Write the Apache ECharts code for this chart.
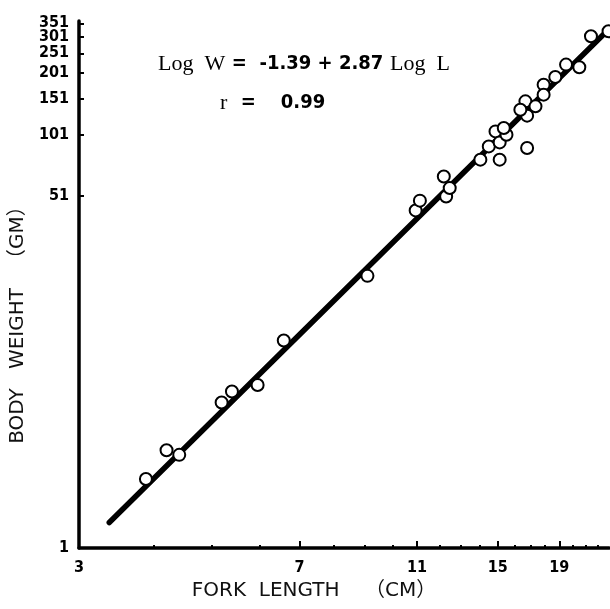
<!DOCTYPE html>
<html><head><meta charset="utf-8">
<script src="https://cdn.jsdelivr.net/npm/echarts@6/dist/echarts.min.js"></script>
<style>html,body{margin:0;padding:0;background:#fff}#c{width:610px;height:609px}</style>
</head><body><div id="c"></div>
<script>
// Observed fish: fork length (cm) and body weight (gm)
const forkLength = [3.88, 4.20, 4.41, 5.19, 5.40, 5.96, 6.59, 9.09, 10.94, 11.12, 12.19, 12.30, 12.47, 14.03, 14.49, 14.87, 15.11, 15.11, 15.51, 15.35, 16.79, 16.79, 16.68, 17.34, 16.36, 17.89, 17.89, 18.71, 19.50, 20.52, 21.46, 22.96];
const bodyWeight = [2.16, 2.98, 2.83, 5.08, 5.74, 6.18, 10.15, 20.9, 43.4, 48.4, 63.4, 50.7, 55.7, 76.5, 88.7, 104.9, 92.8, 76.5, 101.1, 109, 87.2, 125.1, 146.7, 138.8, 133.7, 176.8, 158.1, 192.7, 221.2, 214.6, 303.4, 320.9];
// Regression line end points (Log W = -1.39 + 2.87 Log L)
const fitLength = [3.37, 22.8];
const fitWeight = [1.33, 321];
// Axis ticks and labels
const xLabelValues = [3, 7, 11, 15, 19];
const xMinorTicks = [4, 5, 6, 8, 9, 10, 12, 13, 14, 16, 17, 18, 20, 21, 22];
const xMajorTicks = [7, 11, 15, 19];
const yLabelValuesA = [1, 51, 101, 151, 201, 301];
const yLabelValuesB = [251, 351];
const yTickValues = [51, 101, 151, 201, 251, 301, 351];
const xTitle = 'FORK  LENGTH    （CM）';
const yTitle = 'BODY   WEIGHT   （GM）';

const numFont = "'Liberation Sans Narrow','DejaVu Sans Condensed',sans-serif";
const titleFont = "'DejaVu Sans','Noto Sans CJK SC',sans-serif";
const chart = echarts.init(document.getElementById('c'));
const gridBox = { left: 79, right: 1, top: 21, bottom: 61 };
const yLabelStyle = { margin: 10, hideOverlap: false, showMinLabel: true, showMaxLabel: true, lineHeight: 13, color: '#000', fontSize: 16, fontWeight: 'bold', fontFamily: numFont };
chart.setOption({
  animation: false,
  backgroundColor: '#fff',
  grid: [Object.assign({}, gridBox), Object.assign({}, gridBox)],
  xAxis: [{
    gridIndex: 0, type: 'log', logBase: 10, min: 3, max: 23,
    name: xTitle, nameLocation: 'middle', nameGap: 28,
    nameTextStyle: { color: '#111', fontSize: 20, fontFamily: titleFont, padding: [0, 60, 0, 0] },
    axisLine: { show: true, lineStyle: { color: '#000', width: 3.5 } },
    axisTick: { show: true, inside: true, length: 3, customValues: xMinorTicks, lineStyle: { color: '#000', width: 2 } },
    axisLabel: { customValues: xLabelValues, margin: 12, hideOverlap: false, showMinLabel: true, showMaxLabel: true, color: '#000', fontSize: 16, fontWeight: 'bold', fontFamily: numFont },
    splitLine: { show: false }, minorTick: { show: false }
  }, {
    gridIndex: 1, type: 'log', logBase: 10, min: 3, max: 23,
    axisLine: { show: false },
    axisTick: { show: true, inside: true, length: 7, customValues: xMajorTicks, lineStyle: { color: '#000', width: 2 } },
    axisLabel: { show: false }, splitLine: { show: false }
  }],
  yAxis: [{
    gridIndex: 0, type: 'log', logBase: 10, min: 1, max: 360,
    name: yTitle, nameLocation: 'middle', nameGap: 37,
    nameTextStyle: { color: '#111', fontSize: 20, fontFamily: titleFont, padding: [0, 71, 0, 0] },
    axisLine: { show: true, lineStyle: { color: '#000', width: 3.5 } },
    axisTick: { show: true, inside: true, length: 5, customValues: yTickValues, lineStyle: { color: '#000', width: 2 } },
    axisLabel: Object.assign({ customValues: yLabelValuesA }, yLabelStyle),
    splitLine: { show: false }, minorTick: { show: false }
  }, {
    gridIndex: 1, type: 'log', logBase: 10, min: 1, max: 360,
    axisLine: { show: false }, axisTick: { show: false },
    axisLabel: Object.assign({ customValues: yLabelValuesB }, yLabelStyle),
    splitLine: { show: false }, minorTick: { show: false }
  }],
  series: [{
    type: 'line', xAxisIndex: 0, yAxisIndex: 0,
    data: fitLength.map((l, i) => [l, fitWeight[i]]),
    showSymbol: false, symbol: 'none', z: 2,
    lineStyle: { color: '#000', width: 5.5, cap: 'round' }
  }, {
    type: 'scatter', xAxisIndex: 0, yAxisIndex: 0,
    data: forkLength.map((l, i) => [l, bodyWeight[i]]),
    symbol: 'circle', symbolSize: 12, z: 3,
    itemStyle: { color: '#fff', borderColor: '#000', borderWidth: 2, opacity: 1 }
  }],
  graphic: [{
    type: 'text', left: 158, top: 53,
    style: {
      text: '{s|Log  W}  {b|=  -1.39 + 2.87}  {s|Log  L}',
      rich: {
        s: { fontFamily: "'Liberation Serif',serif", fontSize: 22, fill: '#000' },
        b: { fontFamily: numFont, fontWeight: 'bold', fontSize: 20, fill: '#000' }
      }
    }
  }, {
    type: 'text', left: 220, top: 92,
    style: {
      text: '{s|r}    {b|=    0.99}',
      rich: {
        s: { fontFamily: "'Liberation Serif',serif", fontSize: 22, fill: '#000' },
        b: { fontFamily: numFont, fontWeight: 'bold', fontSize: 20, fill: '#000' }
      }
    }
  }]
});
</script></body></html>
